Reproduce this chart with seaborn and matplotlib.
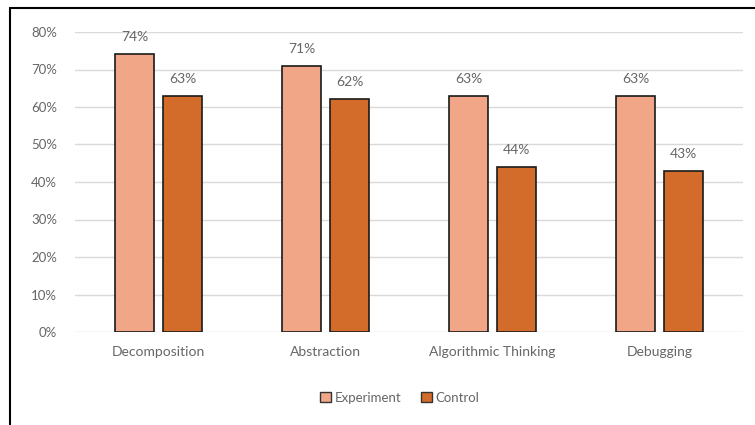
import matplotlib
matplotlib.use("Agg")
import matplotlib.pyplot as plt
import seaborn as sns
import pandas as pd
from matplotlib.lines import Line2D
from matplotlib.patches import Patch

categories = ["Decomposition", "Abstraction", "Algorithmic Thinking", "Debugging"]
experiment = [0.74, 0.71, 0.63, 0.63]
control = [0.63, 0.62, 0.44, 0.43]
groups = ["Experiment", "Control"]
yticks = [0, 0.1, 0.2, 0.3, 0.4, 0.5, 0.6, 0.7, 0.8]

df = pd.DataFrame({
    "category": categories * 2,
    "value": experiment + control,
    "group": [groups[0]] * len(categories) + [groups[1]] * len(categories),
})

sns.set_theme(style="white")
plt.rcParams["font.family"] = ["Lato", "DejaVu Sans"]

colors = {"Experiment": "#F1A688", "Control": "#D36B2A"}
text_color = "#666666"

fig = plt.figure(figsize=(7.55, 4.25), dpi=100)
ax = fig.add_axes([75 / 755, 1 - 332 / 425, (743 - 75) / 755, 300 / 425])

sns.barplot(data=df, x="category", y="value", hue="group", palette=colors,
            saturation=1, width=0.575, gap=0.19, edgecolor="#1a1a1a", linewidth=1.2,
            ax=ax, legend=False)

ax.set_ylim(0, 0.8)
ax.set_xlim(-0.5, 3.5)
ax.set_yticks(yticks)
ax.set_yticklabels([f"{int(round(t * 100))}%" for t in yticks], color=text_color, fontsize=9.5)
ax.tick_params(axis="x", colors=text_color, labelsize=10, length=0, pad=10)
ax.tick_params(axis="y", length=0, pad=13)
ax.set_xlabel("")
ax.set_ylabel("")
ax.yaxis.grid(True, color="#D9D9D9", linewidth=1)
ax.set_axisbelow(True)
for s in ax.spines.values():
    s.set_visible(False)

for cont in ax.containers:
    for bar in cont:
        h = bar.get_height()
        ax.annotate(f"{int(round(h * 100))}%", (bar.get_x() + bar.get_width() / 2, h),
                    xytext=(0, 8), textcoords="offset points", ha="center", va="bottom",
                    color=text_color, fontsize=10)

handles = [Patch(facecolor=colors[g], edgecolor="#333333", linewidth=1) for g in groups]
fig.legend(handles, groups, loc="center", bbox_to_anchor=(400 / 755, 1 - 398 / 425),
           ncol=2, frameon=False, fontsize=9.5, labelcolor=text_color,
           handlelength=0.8, handleheight=0.8, handletextpad=0.3, columnspacing=1.5)

fig.add_artist(Line2D([10 / 755, 10 / 755], [0, 1 - 8 / 425], transform=fig.transFigure,
                      color="black", linewidth=1.5))
fig.add_artist(Line2D([10 / 755, 1], [1 - 8 / 425, 1 - 8 / 425], transform=fig.transFigure,
                      color="black", linewidth=1.5))

fig.savefig("out.png", dpi=100)
